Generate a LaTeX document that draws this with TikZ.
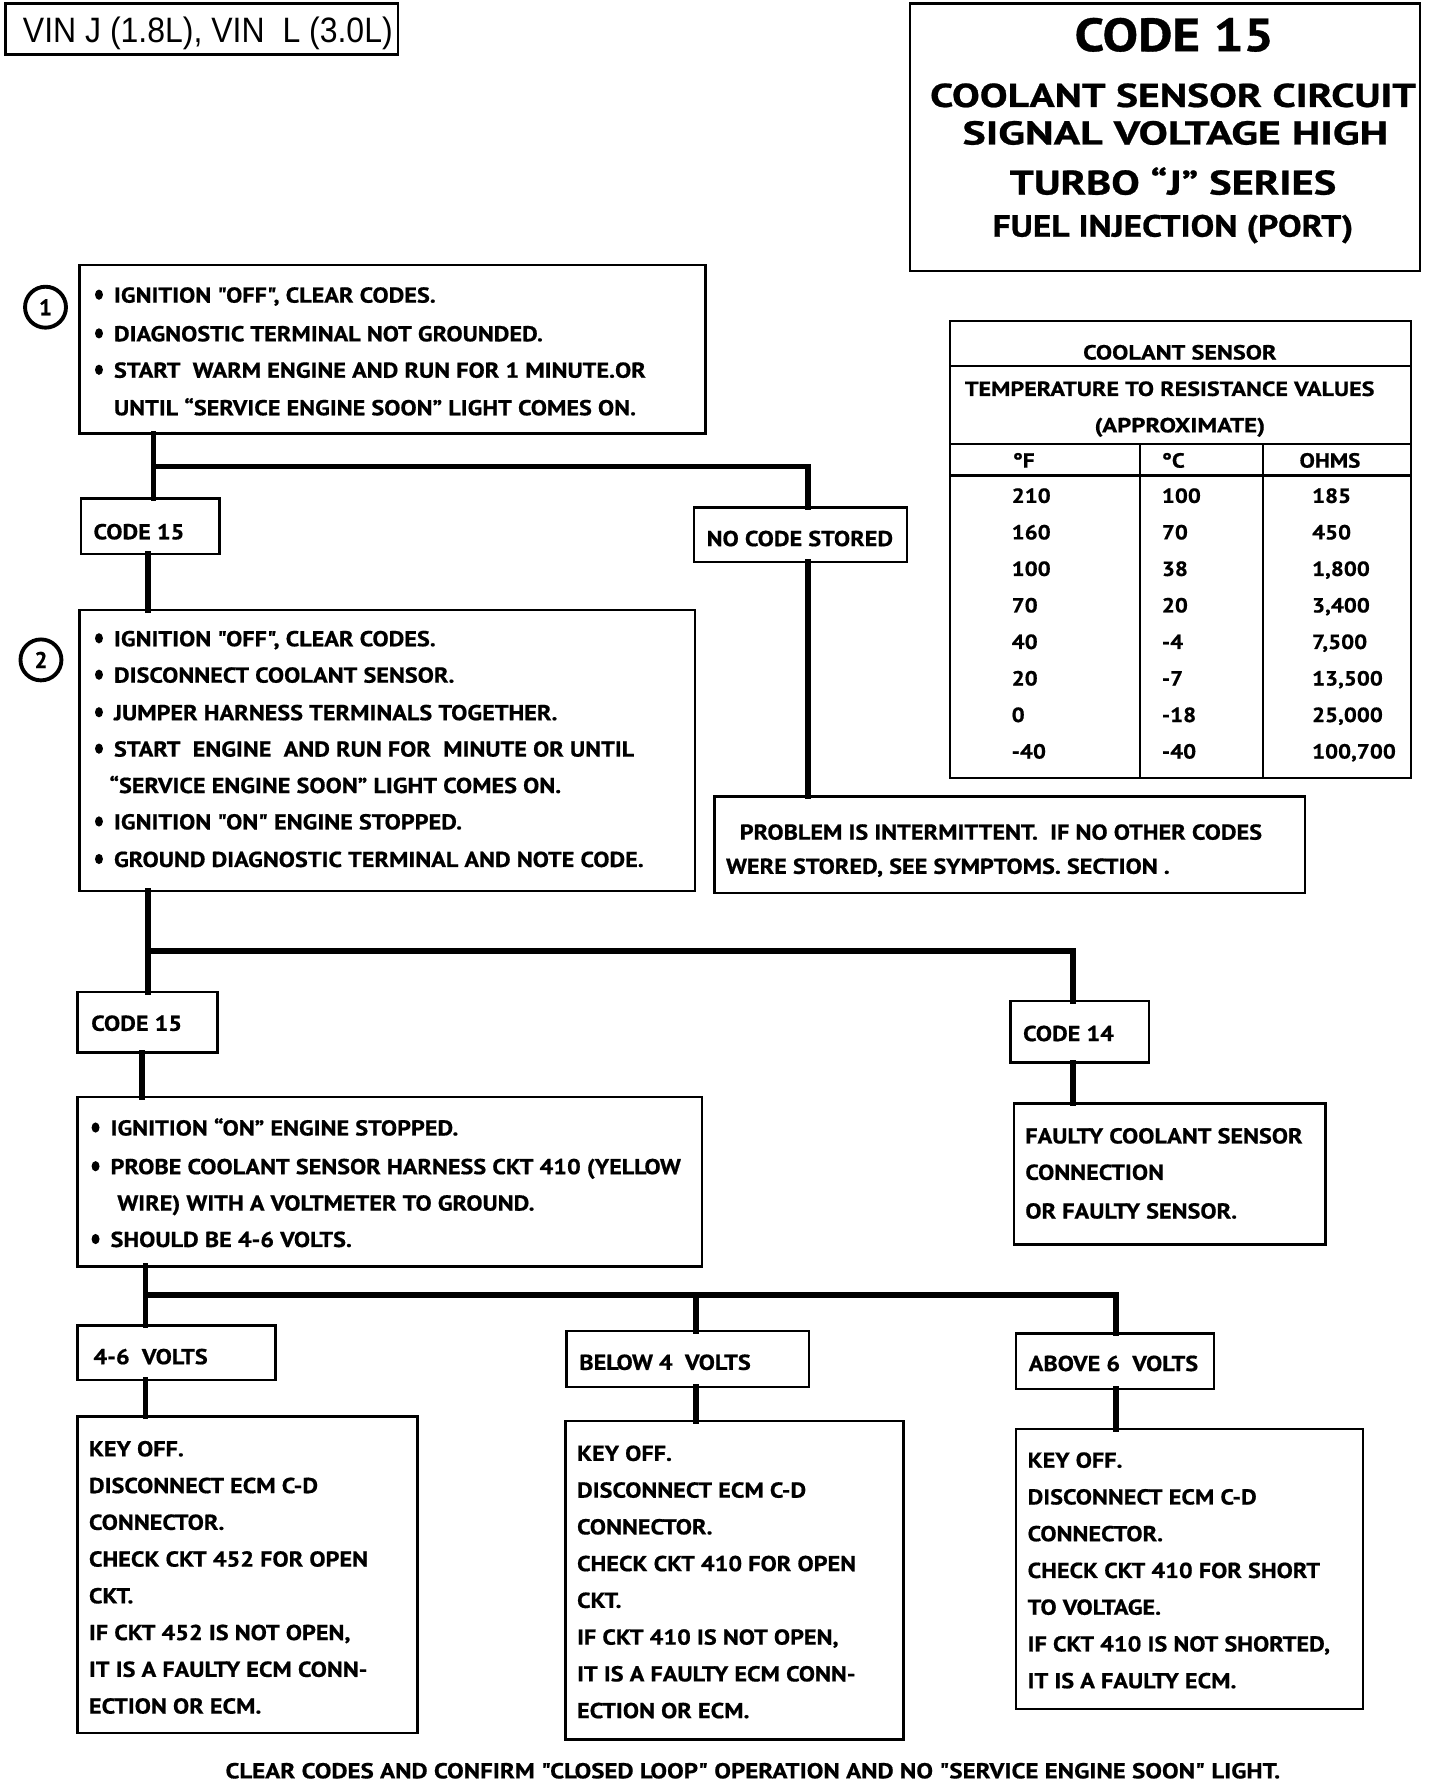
\documentclass[tikz,border=0pt]{standalone}
\usepackage{fontspec}
\usetikzlibrary{shapes.geometric}
\newfontfamily\bx{PT Sans}[FakeStretch=1.12, FakeBold=0.7]
\newfontfamily\tx{PT Sans}[FakeStretch=1.12, FakeBold=0.7]
\newfontfamily\hx{PT Sans}[FakeBold=0.7]
\newfontfamily\ar{Liberation Sans}
\newcommand\mybox[5]{\node[box, anchor=north west, minimum width={(#4-#2)*1pt}, minimum height={(#5-#3)*1pt}] (#1) at (#2,#3) {};}
\newcommand\fitto[2]{\setbox0=\hbox{#2}\pgfmathsetmacro\fsc{#1/\the\wd0}\scalebox{\fsc}[1]{\box0}}
\begin{document}
\begin{tikzpicture}[x=1pt,y=-1pt,
  box/.style={draw, line width=2.2pt, inner sep=0pt, outer sep=0pt},
  conn/.style={line width=5pt, line cap=rect},
  txt/.style={font=\bx\bfseries\fontsize{19}{22}\selectfont, inner sep=0pt, anchor=base west},
  ttxt/.style={font=\tx\bfseries\fontsize{18}{20}\selectfont, inner sep=0pt, anchor=base west},
  htxt/.style={font=\hx\bfseries\fontsize{29}{32}\selectfont, inner sep=0pt, anchor=base},
  bul/.style={ellipse, fill, inner sep=0pt, minimum width=7pt, minimum height=9pt},
  num/.style={circle, draw, line width=3.4pt, minimum size=36pt, inner sep=0pt, font=\hx\bfseries\fontsize{20}{22}\selectfont}]
\useasboundingbox (0,0) rectangle (1265,1568);
\fill[white] (0,0) rectangle (1265,1568);

% header boxes
\mybox{vin}{5}{3}{350}{48}
\node[font=\ar\fontsize{31}{32}\selectfont, inner sep=0pt, anchor=base west] (vint) at (20,37) {\fitto{325}{VIN J (1.8L), VIN\ \ L (3.0L)}};
\mybox{title}{800}{3}{1248}{238}
\node[htxt, font=\hx\bfseries\fontsize{41}{44}\selectfont] (tt1) at (1032,45) {\fitto{175}{CODE 15}};
\node[htxt] (tt2) at (1031,94) {\fitto{427}{COOLANT SENSOR CIRCUIT}};
\node[htxt] (tt3) at (1033,127) {\fitto{374}{SIGNAL VOLTAGE HIGH}};
\node[htxt, font=\hx\bfseries\fontsize{30}{32}\selectfont] (tt4) at (1031,171) {\fitto{287}{TURBO “J” SERIES}};
\node[htxt, font=\hx\bfseries\fontsize{27}{30}\selectfont] (tt5) at (1031,208) {\fitto{317}{FUEL INJECTION (PORT)}};

% step 1
\node[num] (n1) at (40,270) {1};
\mybox{b1}{70}{233}{620}{381}
\node[bul] (b1u1) at (87,259) {};
\node[bul] (b1u2) at (87,293) {};
\node[bul] (b1u3) at (87,325) {};
\node[txt] (b1t1) at (100,266) {IGNITION "OFF", CLEAR CODES.};
\node[txt] (b1t2) at (100,300) {DIAGNOSTIC TERMINAL NOT GROUNDED.};
\node[txt] (b1t3) at (100,332) {START\ \ WARM ENGINE AND RUN FOR 1 MINUTE.OR};
\node[txt] (b1t4) at (100,365) {UNTIL “SERVICE ENGINE SOON” LIGHT COMES ON.};

\mybox{c15a}{71}{438}{193}{487}
\node[txt] (c15at) at (82,474) {CODE 15};
\mybox{ncs}{610}{446}{797}{494}
\node[txt, anchor=base] (ncst) at (703,480) {NO CODE STORED};

% step 2
\node[num] (n2) at (36,580) {2};
\mybox{b2}{70}{536}{611}{783}
\node[bul] (b2u1) at (87,561) {};
\node[bul] (b2u2) at (87,593) {};
\node[bul] (b2u3) at (87,626) {};
\node[bul] (b2u4) at (87,658) {};
\node[bul] (b2u6) at (87,722) {};
\node[bul] (b2u7) at (87,755) {};
\node[txt] (b2t1) at (100,568) {IGNITION "OFF", CLEAR CODES.};
\node[txt] (b2t2) at (100,600) {DISCONNECT COOLANT SENSOR.};
\node[txt] (b2t3) at (100,633) {JUMPER HARNESS TERMINALS TOGETHER.};
\node[txt] (b2t4) at (100,665) {START\ \ ENGINE\ \ AND RUN FOR\ \ MINUTE OR UNTIL};
\node[txt] (b2t5) at (96,697) {“SERVICE ENGINE SOON” LIGHT COMES ON.};
\node[txt] (b2t6) at (100,729) {IGNITION "ON" ENGINE STOPPED.};
\node[txt] (b2t7) at (100,762) {GROUND DIAGNOSTIC TERMINAL AND NOTE CODE.};

\mybox{prob}{628}{700}{1147}{785}
\node[txt] (probt1) at (650,738) {PROBLEM IS INTERMITTENT.\ \ IF NO OTHER CODES};
\node[txt] (probt2) at (638,768) {WERE STORED, SEE SYMPTOMS. SECTION .};

% table
\mybox{tbl}{835}{282}{1240}{684}
\draw[line width=2pt] (tbl.west |- 0,322) -- (tbl.east |- 0,322);
\draw[line width=2pt] (tbl.west |- 0,390) -- (tbl.east |- 0,390);
\draw[line width=2pt] (tbl.west |- 0,418) -- (tbl.east |- 0,418);
\draw[line width=2pt] (1002,390) -- (1002,684);
\draw[line width=2pt] (1110,390) -- (1110,684);
\node[ttxt, anchor=base] (th1) at (1037,316) {\fitto{170}{COOLANT SENSOR}};
\node[ttxt, anchor=base] (th2) at (1028,348) {\fitto{360}{TEMPERATURE TO RESISTANCE VALUES}};
\node[ttxt, anchor=base] (th3) at (1037,380) {\fitto{150}{(APPROXIMATE)}};
\node[ttxt] (hf) at (890,411) {°F};
\node[ttxt] (hc) at (1021,411) {°C};
\node[ttxt] (ho) at (1142,411) {OHMS};
\foreach \f/\c/\o [count=\i] in {210/100/185, 160/70/450, 100/38/{1,800}, 70/20/{3,400}, 40/-4/{7,500}, 20/-7/{13,500}, 0/-18/{25,000}, -40/-40/{100,700}}{
  \pgfmathsetmacro\yy{442+(\i-1)*32.1}
  \node[ttxt] (rf\i) at (889,\yy) {\f};
  \node[ttxt] (rc\i) at (1021,\yy) {\c};
  \node[ttxt] (ro\i) at (1153,\yy) {\o};
}

% codes after step 2
\mybox{c15b}{68}{872}{191}{925}
\node[txt] (c15bt) at (80,906) {CODE 15};
\mybox{c14}{888}{880}{1010}{934}
\node[txt] (c14t) at (899,915) {CODE 14};
\mybox{fault}{891}{970}{1165}{1094}
\node[txt] (ft1) at (901,1005) {FAULTY COOLANT SENSOR};
\node[txt] (ft2) at (901,1037) {CONNECTION};
\node[txt] (ft3) at (901,1071) {OR FAULTY SENSOR.};

% step 3
\mybox{b3}{68}{964}{617}{1113}
\node[bul] (b3u1) at (84,991) {};
\node[bul] (b3u2) at (84,1025) {};
\node[bul] (b3u4) at (84,1089) {};
\node[txt] (b3t1) at (97,998) {IGNITION “ON” ENGINE STOPPED.};
\node[txt] (b3t2) at (97,1032) {PROBE COOLANT SENSOR HARNESS CKT 410 (YELLOW};
\node[txt] (b3t3) at (103,1064) {WIRE) WITH A VOLTMETER TO GROUND.};
\node[txt] (b3t4) at (97,1096) {SHOULD BE 4-6 VOLTS.};

\mybox{v46}{68}{1165}{242}{1213}
\node[txt] (v46t) at (82,1199) {4-6\ \ VOLTS};
\mybox{vlo}{498}{1170}{711}{1219}
\node[txt] (vlot) at (509,1204) {BELOW 4\ \ VOLTS};
\mybox{vhi}{893}{1172}{1067}{1221}
\node[txt] (vhit) at (904,1205) {ABOVE 6\ \ VOLTS};

\mybox{kA}{68}{1245}{367}{1523}
\foreach \t [count=\i] in {KEY OFF., DISCONNECT ECM C-D, CONNECTOR., CHECK CKT 452 FOR OPEN, CKT., {IF CKT 452 IS NOT OPEN,}, IT IS A FAULTY ECM CONN-, ECTION OR ECM.}{
  \pgfmathsetmacro\yy{1280+(\i-1)*32.3}
  \node[txt] (kAt\i) at (78,\yy) {\t};
}
\mybox{kB}{497}{1249}{794}{1529}
\foreach \t [count=\i] in {KEY OFF., DISCONNECT ECM C-D, CONNECTOR., CHECK CKT 410 FOR OPEN, CKT., {IF CKT 410 IS NOT OPEN,}, IT IS A FAULTY ECM CONN-, ECTION OR ECM.}{
  \pgfmathsetmacro\yy{1284+(\i-1)*32.3}
  \node[txt] (kBt\i) at (507,\yy) {\t};
}
\mybox{kC}{893}{1256}{1198}{1502}
\foreach \t [count=\i] in {KEY OFF., DISCONNECT ECM C-D, CONNECTOR., CHECK CKT 410 FOR SHORT, TO VOLTAGE., {IF CKT 410 IS NOT SHORTED,}, IT IS A FAULTY ECM.}{
  \pgfmathsetmacro\yy{1290+(\i-1)*32.3}
  \node[txt] (kCt\i) at (903,\yy) {\t};
}

\node[txt] (foot) at (198,1563) {\fitto{927}{CLEAR CODES AND CONFIRM "CLOSED LOOP" OPERATION AND NO "SERVICE ENGINE SOON" LIGHT.}};

% connectors
\coordinate (j1) at (135,410);
\coordinate (xa) at (130,0);
\coordinate (xn) at (710,0);
\draw[conn] (b1.south -| j1) -- (j1) -| (ncs.north -| xn);
\draw[conn] (j1) -- (c15a.north -| j1);
\draw[conn] (c15a.south -| xa) -- (b2.north -| xa);
\draw[conn] (ncs.south -| xn) -- (prob.north -| xn);
\coordinate (j2) at (130,836);
\coordinate (x14) at (943,0);
\coordinate (xb) at (125,0);
\draw[conn] (b2.south -| j2) -- (j2) -| (c14.north -| x14);
\draw[conn] (j2) -- (c15b.north -| j2);
\draw[conn] (c14.south -| x14) -- (fault.north -| x14);
\draw[conn] (c15b.south -| xb) -- (b3.north -| xb);
\coordinate (j3) at (128,1138);
\coordinate (xlo) at (612,0);
\coordinate (xhi) at (981,0);
\draw[conn] (b3.south -| j3) -- (j3) -| (vhi.north -| xhi);
\draw[conn] (j3) -- (v46.north -| j3);
\draw[conn] (j3 -| xlo) -- (vlo.north -| xlo);
\draw[conn] (v46.south -| j3) -- (kA.north -| j3);
\draw[conn] (vlo.south -| xlo) -- (kB.north -| xlo);
\draw[conn] (vhi.south -| xhi) -- (kC.north -| xhi);
\end{tikzpicture}
\end{document}
